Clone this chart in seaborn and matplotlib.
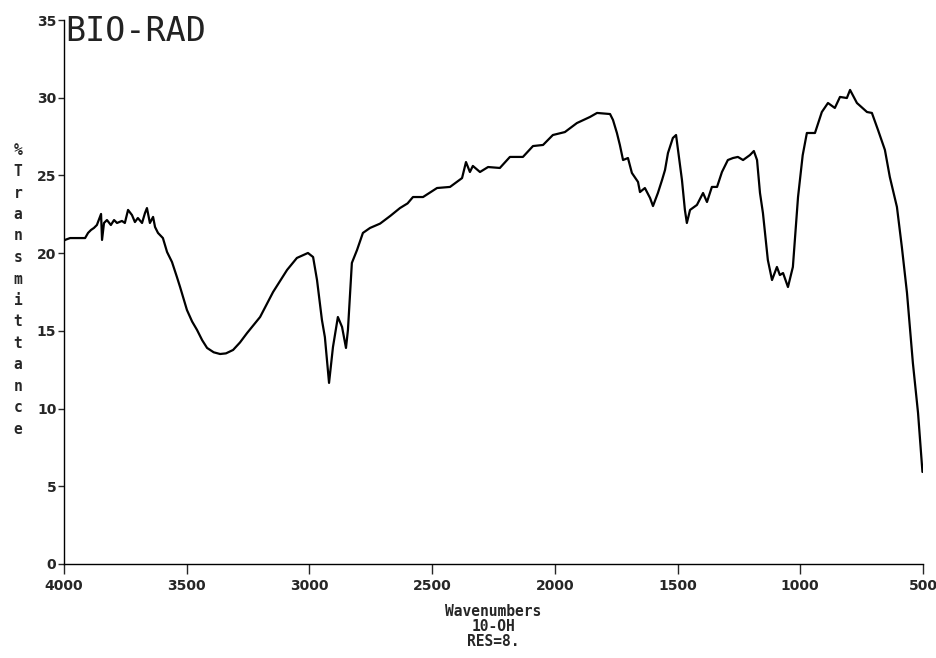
import matplotlib
matplotlib.use('Agg')
import matplotlib.pyplot as plt
import seaborn as sns
import pandas as pd

# IR spectrum: wavenumber (cm-1) and % transmittance
wavenumber = [4000, 3996, 3975, 3914, 3902, 3890, 3878, 3866, 3849, 3845,
              3837, 3825, 3809, 3796, 3784, 3764, 3752, 3739, 3723, 3711,
              3699, 3682, 3670, 3662, 3650, 3637, 3629, 3617, 3597, 3580,
              3560, 3540, 3527, 3499, 3478, 3458, 3437, 3417, 3390, 3364,
              3340, 3311, 3283, 3254, 3201, 3148, 3091, 3051, 3006, 2985,
              2969, 2949, 2937, 2920, 2904, 2884, 2867, 2851, 2843, 2827,
              2806, 2782, 2753, 2712, 2670, 2631, 2600, 2578, 2537, 2480,
              2427, 2378, 2362, 2346, 2334, 2305, 2272, 2224, 2183, 2130,
              2089, 2048, 2008, 1959, 1910, 1857, 1828, 1775, 1763, 1747,
              1735, 1722, 1702, 1686, 1661, 1653, 1633, 1612, 1600, 1580,
              1563, 1551, 1539, 1519, 1506, 1498, 1482, 1470, 1462, 1449,
              1421, 1396, 1380, 1360, 1339, 1319, 1295, 1274, 1254, 1233,
              1205, 1189, 1176, 1164, 1152, 1132, 1115, 1095, 1083, 1070,
              1050, 1030, 1009, 990, 973, 940, 912, 887, 859, 838,
              810, 797, 769, 728, 708, 683, 655, 635, 606, 586,
              565, 541, 520, 502]
transmittance = [20.8, 20.85, 20.97, 20.97, 21.30, 21.49, 21.62, 21.81, 22.52, 20.85,
                 21.94, 22.13, 21.81, 22.13, 21.94, 22.07, 21.94, 22.78, 22.45, 22.00,
                 22.26, 21.94, 22.58, 22.90, 21.94, 22.33, 21.68, 21.30, 20.97, 20.07,
                 19.43, 18.47, 17.82, 16.34, 15.60, 15.06, 14.40, 13.90, 13.62, 13.51,
                 13.55, 13.77, 14.25, 14.86, 15.89, 17.50, 18.92, 19.69, 20.01, 19.75,
                 18.27, 15.70, 14.60, 11.65, 13.96, 15.89, 15.25, 13.90, 15.06, 19.37,
                 20.20, 21.30, 21.62, 21.90, 22.40, 22.90, 23.20, 23.61, 23.61, 24.19,
                 24.26, 24.83, 25.86, 25.22, 25.61, 25.22, 25.54, 25.48, 26.19, 26.19,
                 26.89, 26.96, 27.60, 27.79, 28.37, 28.76, 29.02, 28.95, 28.57, 27.73,
                 26.96, 25.99, 26.12, 25.16, 24.58, 23.93, 24.19, 23.55, 23.03, 23.87,
                 24.71, 25.35, 26.44, 27.41, 27.60, 26.64, 24.71, 22.78, 21.94, 22.78,
                 23.10, 23.87, 23.29, 24.26, 24.26, 25.22, 25.99, 26.12, 26.19, 25.99,
                 26.31, 26.57, 25.99, 23.87, 22.58, 19.56, 18.27, 19.11, 18.59, 18.72,
                 17.82, 19.11, 23.61, 26.30, 27.73, 27.73, 29.08, 29.66, 29.34, 30.05,
                 29.98, 30.50, 29.66, 29.08, 29.02, 27.92, 26.64, 24.90, 22.97, 20.40,
                 17.44, 12.93, 9.72, 5.92]

x_ticks = [4000, 3500, 3000, 2500, 2000, 1500, 1000, 500]
y_ticks = [0, 5, 10, 15, 20, 25, 30, 35]
ylabel_chars = list('%Transmittance')

df = pd.DataFrame({'wavenumber': wavenumber, 'transmittance': transmittance})

sns.set_style('white')
plt.rcParams['font.family'] = ['DejaVu Sans']

fig = plt.figure(figsize=(9.37, 6.58), dpi=100)
ax = fig.add_axes([0.0683, 0.1429, 0.9167, 0.8267])

sns.lineplot(data=df, x='wavenumber', y='transmittance', color='black',
             linewidth=1.6, sort=False, estimator=None, ax=ax)

ax.set_xlim(4000, 500)
ax.set_ylim(0, 35)
ax.set_xticks(x_ticks)
ax.set_yticks(y_ticks)
ax.tick_params(axis='x', direction='out', length=7, width=1, pad=4,
               labelsize=10, bottom=True)
ax.tick_params(axis='y', direction='out', length=4.5, width=1, pad=1,
               labelsize=10, left=True)
for lab in ax.get_xticklabels() + ax.get_yticklabels():
    lab.set_fontweight('bold')
sns.despine(ax=ax)
for s in ['left', 'bottom']:
    ax.spines[s].set_color('black')
    ax.spines[s].set_linewidth(1)

ax.set_xlabel('Wavenumbers\n10-OH\nRES=8.', family='DejaVu Sans Mono',
              fontsize=10.5, fontweight='bold', linespacing=1.0, labelpad=8)
ax.set_ylabel('')

ax.text(3995, 35.3, 'BIO-RAD', family='DejaVu Sans Mono', fontsize=24,
        va='top', ha='left', color='#222222')

for i, ch in enumerate(ylabel_chars):
    fig.text(18 / 937, 1 - (150 + i * 21.5) / 658, ch,
             family='DejaVu Sans Mono', fontweight='bold', fontsize=10.5,
             ha='center', va='center')

fig.savefig('out.png', dpi=100)
